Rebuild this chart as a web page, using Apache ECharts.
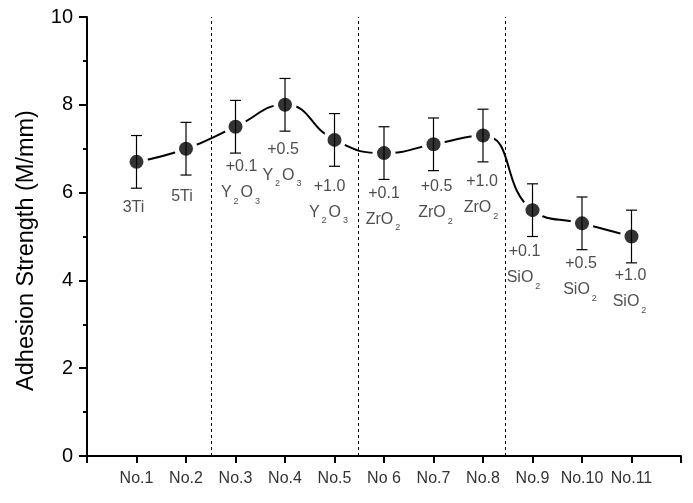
<!DOCTYPE html>
<html>
<head>
<meta charset="utf-8">
<script src="https://cdn.jsdelivr.net/npm/echarts@6/dist/echarts.min.js"></script>
<style>
  html, body { margin: 0; padding: 0; background: #fff; }
  #chart { width: 693px; height: 503px; }
</style>
</head>
<body>
<div id="chart"></div>
<script>
// adhesion strength per sample, error bars, and the dopant labels under each point
const samples  = ["No.1", "No.2", "No.3", "No.4", "No.5", "No 6", "No.7", "No.8", "No.9", "No.10", "No.11"];
const strength = [6.7, 7.0, 7.5, 8.0, 7.2, 6.9, 7.1, 7.3, 5.6, 5.3, 5.0];
const errBar   = [0.6, 0.6, 0.6, 0.6, 0.6, 0.6, 0.6, 0.6, 0.6, 0.6, 0.6];
const addAmt   = ["3Ti", "5Ti", "+0.1", "+0.5", "+1.0", "+0.1", "+0.5", "+1.0", "+0.1", "+0.5", "+1.0"];
const oxide    = ["", "", "Y2O3", "Y2O3", "Y2O3", "ZrO2", "ZrO2", "ZrO2", "SiO2", "SiO2", "SiO2"];
const groupEdges = [2.52, 5.48, 8.45];
const yTicks = [0, 2, 4, 6, 8, 10];

// label placement tweaks (px): gap below the error bar, horizontal shift
const lblGap = [6, 9, 1, 5, 7, 1, 3, 7, 2.5, 1, 0];
const lblDx  = [-3, -4, 6, -2, -5, 0, 3, -1, -8, -1, -1];

const FONT = "Liberation Sans, Arial, sans-serif";

// "Y2O3" -> rich tokens with subscript digits
const chem = s => s.replace(/([A-Za-z]+)(\d*)/g, (m, el, n) => `{n|${el}}` + (n ? `{s|${n}}` : ""));

const chart = echarts.init(document.getElementById("chart"));

const pts = strength.map((v, i) => [i + 1, v]);

chart.setOption({
  animation: false,
  grid: { left: 87, right: 12, top: 17, bottom: 47 },
  xAxis: {
    type: "value", min: 0, max: 12, interval: 1,
    axisLine: { lineStyle: { color: "#000", width: 2 } },
    axisTick: { length: 7, lineStyle: { color: "#000", width: 2 } },
    splitLine: { show: false },
    axisLabel: {
      margin: 15, color: "#333", fontSize: 16, fontFamily: FONT,
      formatter: v => (v >= 1 && v <= samples.length ? samples[v - 1] : ""),
    },
  },
  yAxis: {
    type: "value", min: yTicks[0], max: yTicks[yTicks.length - 1], interval: 2,
    name: "Adhesion Strength (M/mm)", nameLocation: "middle", nameGap: 48,
    // right padding nudges the rotated title a little down the axis
    nameTextStyle: { fontSize: 23.5, fontFamily: FONT, color: "#000", padding: [0, 28, 0, 0] },
    axisLine: { show: true, lineStyle: { color: "#000", width: 2 } },
    axisTick: { length: 8, lineStyle: { color: "#000", width: 2 } },
    minorTick: { show: true, splitNumber: 2, length: 4, lineStyle: { color: "#000", width: 2 } },
    splitLine: { show: false },
    axisLabel: { margin: 14, color: "#000", fontSize: 20, fontFamily: FONT },
  },
  series: [
    {
      // smooth guide line, white halo round each marker
      type: "line", data: pts, smooth: 0.5, z: 2,
      lineStyle: { color: "#000", width: 2 },
      symbol: "circle", symbolSize: 23,
      itemStyle: { color: "#fff", borderWidth: 0 },
      markLine: {
        silent: true, symbol: "none", label: { show: false },
        lineStyle: { color: "#000", width: 1, type: [3, 3] },
        data: groupEdges.map(x => ({ xAxis: x })),
      },
    },
    {
      type: "custom", z: 3,
      data: strength.map((v, i) => [i + 1, v - errBar[i], v + errBar[i]]),
      renderItem: (params, api) => {
        const top = api.coord([api.value(0), api.value(2)]);
        const bot = api.coord([api.value(0), api.value(1)]);
        const hw = 5.5, st = { stroke: "#000", lineWidth: 1.2 };
        return {
          type: "group",
          children: [
            { type: "line", shape: { x1: top[0], y1: top[1], x2: bot[0], y2: bot[1] }, style: st },
            { type: "line", shape: { x1: top[0] - hw, y1: top[1], x2: top[0] + hw, y2: top[1] }, style: st },
            { type: "line", shape: { x1: bot[0] - hw, y1: bot[1], x2: bot[0] + hw, y2: bot[1] }, style: st },
          ],
        };
      },
    },
    {
      type: "scatter", data: pts, z: 4,
      symbol: "circle", symbolSize: 14,
      itemStyle: { color: "#000" },
    },
    {
      // dopant labels, hung under the lower error bar
      type: "scatter", z: 5, symbolSize: 0, silent: true,
      data: strength.map((v, i) => ({
        value: [i + 1, v - errBar[i]],
        label: { distance: lblGap[i], offset: [lblDx[i], 0] },
      })),
      label: {
        show: true, position: "bottom", align: "center",
        formatter: p => {
          const i = p.dataIndex;
          const l1 = `{n|${addAmt[i]}}`;
          return oxide[i] ? l1 + "\n" + chem(oxide[i]) : l1;
        },
        rich: {
          n: { fontSize: 16, fontFamily: FONT, color: "#222", lineHeight: 26, verticalAlign: "middle" },
          s: { fontSize: 9, fontFamily: FONT, color: "#222", lineHeight: 12, verticalAlign: "bottom", padding: [0, 2, 0, 2] },
        },
      },
    },
  ],
});
</script>
</body>
</html>
